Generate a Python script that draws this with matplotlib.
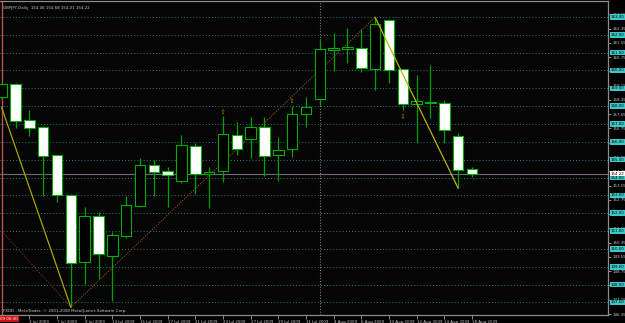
import numpy as np
import matplotlib
matplotlib.use('Agg')
import matplotlib.pyplot as plt
from matplotlib import transforms

# daily GBPJPY bars, 1 Jul 2009 .. 18 Aug 2009
dates = ['1 Jul 2009', '2 Jul 2009', '3 Jul 2009', '6 Jul 2009', '7 Jul 2009', '8 Jul 2009',
         '9 Jul 2009', '10 Jul 2009', '13 Jul 2009', '14 Jul 2009', '15 Jul 2009', '16 Jul 2009',
         '17 Jul 2009', '20 Jul 2009', '21 Jul 2009', '22 Jul 2009', '23 Jul 2009', '24 Jul 2009',
         '27 Jul 2009', '28 Jul 2009', '29 Jul 2009', '30 Jul 2009', '31 Jul 2009', '3 Aug 2009',
         '4 Aug 2009', '5 Aug 2009', '6 Aug 2009', '7 Aug 2009', '10 Aug 2009', '11 Aug 2009',
         '12 Aug 2009', '13 Aug 2009', '14 Aug 2009', '17 Aug 2009', '18 Aug 2009']
opens = [158.51, 159.22, 157.21, 156.85, 155.25, 153.04, 149.25, 151.83, 149.62, 150.71, 152.42, 154.69,
         154.37, 153.82, 155.78, 154.18, 154.35, 156.37, 156.14, 156.83, 155.26, 155.58, 157.54, 158.38,
         161.15, 161.22, 161.28, 160.10, 162.83, 160.07, 158.10, 158.20, 158.18, 156.33, 154.46]
highs = [159.35, 159.28, 157.78, 156.88, 155.28, 153.08, 152.33, 152.08, 150.93, 152.96, 155.08, 154.98,
         154.57, 156.38, 155.92, 154.57, 157.45, 157.09, 157.39, 157.39, 156.25, 158.01, 158.53, 161.71,
         162.08, 162.36, 162.31, 162.98, 162.91, 160.08, 159.75, 160.31, 158.35, 156.48, 154.58]
lows = [158.40, 156.79, 156.33, 152.96, 152.64, 146.73, 148.03, 148.31, 147.06, 150.63, 152.36, 152.96,
        152.33, 153.68, 153.06, 152.27, 153.77, 155.28, 155.11, 154.09, 153.80, 155.17, 156.85, 158.01,
        159.97, 160.40, 159.93, 158.91, 159.31, 157.78, 155.96, 157.32, 155.96, 153.41, 154.01]
closes = [159.24, 157.17, 156.76, 155.21, 153.04, 149.21, 151.83, 149.70, 150.76, 152.44, 154.69, 154.33,
          154.12, 155.81, 154.21, 154.33, 156.42, 155.58, 156.85, 155.22, 155.53, 157.54, 157.97, 161.19,
          161.24, 161.30, 160.12, 162.60, 160.01, 158.12, 158.27, 158.22, 156.66, 154.42, 154.22]

# zigzag legs (bar index, price)
zz_down1 = [(0, 157.91), (5, 146.73)]
zz_up = [(5, 146.73), (27, 162.98)]
zz_down2 = [(27, 162.98), (33, 153.41)]
zz_old = [(0, 151.00), (5, 146.73)]

# fractals
fractal_up = [(16, 157.69), (21, 158.31)]
fractal_down = [(29, 157.41)]

hlines = list(range(147, 164))
axis_labels = [146.35 + 0.8 * k for k in range(22)]
last_price = 154.22
month_sep = 23

title = 'GBPJPY,Daily  154.46 154.58 154.01 154.22'
copyright = 'FXDD - MetaTrader, \u00a9 2001-2008 MetaQuotes Software Corp.'

W, H = 625, 323
fs = 2.9
fig = plt.figure(figsize=(W / 100, H / 100), dpi=100, facecolor='black')
ax = fig.add_axes([0, 8 / H, 608 / W, 314 / H])
ax.set_facecolor('#050505')

step = 13.83
ax.set_xlim(-1.7 / step, (608 - 1.7) / step)
ax.set_ylim(146.294, 163.894)

# horizontal levels
for p in hlines:
    ax.axhline(p, color='#1f8080', ls=(0, (1, 2.2)), lw=0.7, zorder=1)
ax.axhline(last_price, color='#6c6c7c', lw=0.8, zorder=1)
ax.axvline(month_sep, color='#7a7a7a', ls=(0, (1, 1.5)), lw=0.8, zorder=1)
ax.axvline(0, color='#c05050', lw=1.0, zorder=1)

# zigzag
def leg(pts, **kw):
    xs = [p[0] for p in pts]
    ys = [p[1] for p in pts]
    ax.plot(xs, ys, **kw)

leg(zz_old, color='#8b2a10', ls=(0, (1, 1.5)), lw=0.8, zorder=2)
leg(zz_up, color='#9a4a1a', ls=(0, (1, 1.2)), lw=0.8, zorder=2)
leg(zz_down1, color='#a8a800', lw=0.9, zorder=4)
leg(zz_down2, color='#b8b800', lw=0.9, zorder=4)

# candles
x = np.arange(len(opens))
o = np.array(opens)
c = np.array(closes)
bottoms = np.minimum(o, c)
heights = np.maximum(np.abs(c - o), 0.03)
faces = ['white' if cc < oo else 'black' for oo, cc in zip(o, c)]
ax.vlines(x, lows, highs, color='#00a000', lw=0.9, zorder=2)
ax.bar(x, heights, width=0.76, bottom=bottoms, color=faces, edgecolor='#00b000', lw=0.8, zorder=3)

# fractal arrows
for xi, yi in fractal_up:
    ax.text(xi, yi, '\u21e7', color='#9a8a00', fontsize=5, ha='center', va='center', zorder=5)
for xi, yi in fractal_down:
    ax.text(xi, yi, '\u21e9', color='#9a8a00', fontsize=5, ha='center', va='center', zorder=5)

# texts in chart
ax.text(3 / 608, 1 - 7 / 314, title, transform=ax.transAxes, color='#c8c8c8', fontsize=fs,
        ha='left', va='center')
ax.text(3 / 608, 4 / 314, copyright, transform=ax.transAxes, color='#c8c8c8', fontsize=fs,
        ha='left', va='center')

# spines
ax.spines['left'].set_visible(False)
for s in ['right', 'top', 'bottom']:
    ax.spines[s].set_color('#8c8c8c')
    ax.spines[s].set_linewidth(0.9)

# right price axis
ax.yaxis.tick_right()
ax.set_yticks(axis_labels)
ax.set_yticklabels(['%.2f' % v for v in axis_labels])
ax.tick_params(axis='y', length=2, width=0.6, color='#a0a0a0', labelsize=fs,
               labelcolor='#c8c8c8', pad=1)

trans = transforms.blended_transform_factory(ax.transAxes, ax.transData)
for p in hlines:
    ax.text(1.005, p, '%.2f' % p, transform=trans, fontsize=fs, color='#000000', ha='left',
            va='center', clip_on=False, zorder=6,
            bbox=dict(boxstyle='square,pad=0.2', fc='#3cc8c8', ec='none'))
ax.text(1.005, last_price, '%.2f' % last_price, transform=trans, fontsize=fs, color='#000000',
        ha='left', va='center', clip_on=False, zorder=7,
        bbox=dict(boxstyle='square,pad=0.2', fc='white', ec='none'))

# bottom time axis
ticks = list(range(2, len(dates), 2))
ax.set_xticks(ticks)
ax.set_xticklabels([dates[i] for i in ticks])
ax.tick_params(axis='x', length=3, width=0.6, color='#a0a0a0', labelsize=fs,
               labelcolor='#c8c8c8', pad=0.8)
for lab in ax.get_xticklabels():
    lab.set_ha('left')
fig.text(0.5 / W, 4 / H, '09 00:00', color='#ffffff', fontsize=fs, ha='left', va='center',
         bbox=dict(boxstyle='square,pad=0.25', fc='#d01010', ec='none'))

fig.savefig('out.png', dpi=100, facecolor='black')
